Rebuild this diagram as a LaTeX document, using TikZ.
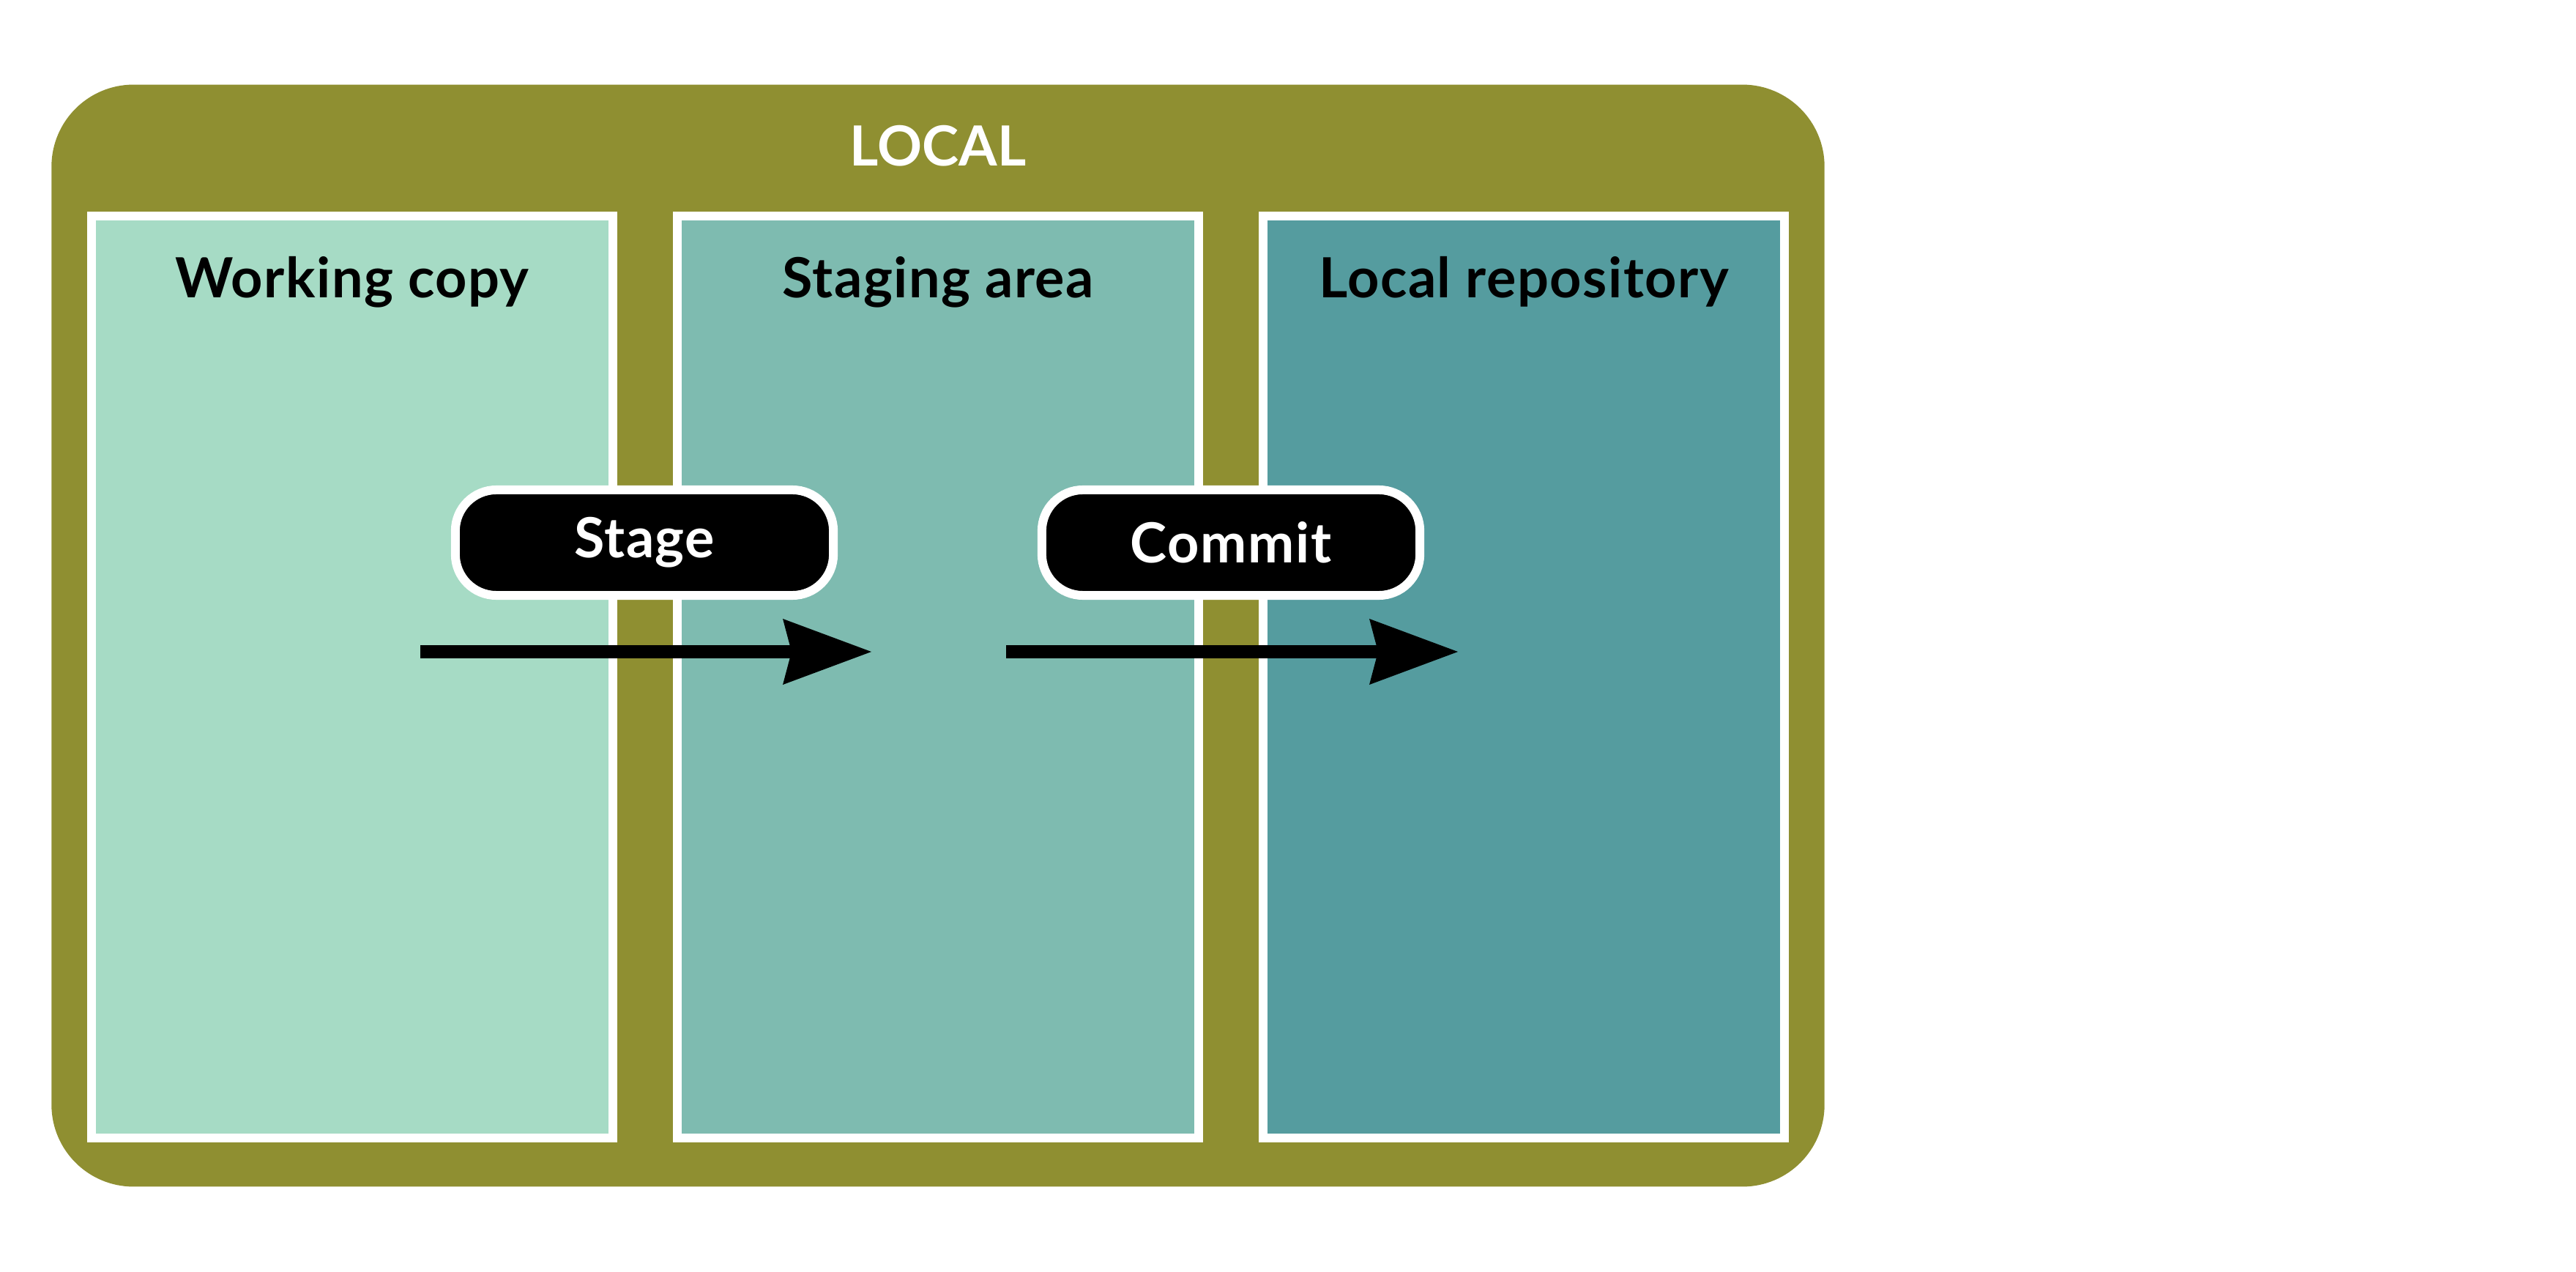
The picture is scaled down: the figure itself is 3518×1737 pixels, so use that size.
\documentclass[tikz,border=0pt]{standalone}
\usepackage{fontspec}
\setmainfont{Lato}
\newfontfamily\spacedfont{Lato}[LetterSpace=2]
\usetikzlibrary{arrows.meta}

\definecolor{localolive}{HTML}{8F8F31}
\definecolor{workfill}{HTML}{A6DBC5}
\definecolor{stagefill}{HTML}{7EBBB0}
\definecolor{repofill}{HTML}{559C9F}

\begin{document}
\begin{tikzpicture}[x=0.01cm, y=-0.01cm,
    region/.style={fill=localolive, rounded corners=1.12cm, inner sep=0pt,
      minimum width=24.2cm, minimum height=15.04cm},
    regiontitle/.style={anchor=base, text=white,
      font=\fontsize{21.5}{26}\selectfont\bfseries},
    area/.style={draw=white, line width=0.12cm, inner sep=0pt,
      minimum width=7.12cm, minimum height=12.59cm},
    areatitle/.style={anchor=base,
      font=\spacedfont\fontsize{21.5}{26}\selectfont\bfseries},
    action/.style={draw=white, fill=black, text=white, line width=0.12cm,
      rounded corners=0.56cm, inner sep=0pt,
      minimum width=5.16cm, minimum height=1.44cm,
      font=\spacedfont\fontsize{21.5}{26}\selectfont\bfseries},
    flow/.style={line width=0.17cm,
      -{Stealth[length=34.4pt, width=25.6pt, inset=3.4pt, line width=0pt]}}
  ]

    % Page the size of the reference (units are pixels, y grows downwards)
    \useasboundingbox[fill=white] (0,0) rectangle (3518,1737);

    % The olive LOCAL region
    \node[region] (local) at (1281,868) {};
    \node[regiontitle] (tlocal) at ([yshift=-1.12cm]local.north) {LOCAL};

    % Distance between two neighbouring areas
    \pgfmathsetmacro{\pitch}{800}

    % Draw the three areas with their titles
    \foreach \i/\name/\col/\txt in {0/working/workfill/Working copy,
        1/staging/stagefill/Staging area,
        2/repo/repofill/Local repository}{
      \pgfmathsetmacro{\cx}{481 + \pitch*\i}
      \node[area, fill=\col] (\name) at (\cx, 924.5) {};
      \node[areatitle] (t\name) at ([yshift=-1.18cm]\name.north) {\txt};
    }

    % Labels sitting on the gaps between the areas
    \node[action] (stage) at (880,741) {Stage};
    \node[action] (commit) at (1681,741) {Commit};

    % Arrows going from one area to the next
    \coordinate (stagefrom) at (574,890);
    \coordinate (stageto) at (1190,890);
    \coordinate (commitfrom) at (1374,890);
    \coordinate (committo) at (1991,890);

    \draw[flow] (stagefrom) -- (stageto);
    \draw[flow] (commitfrom) -- (committo);

  \end{tikzpicture}
\end{document}
